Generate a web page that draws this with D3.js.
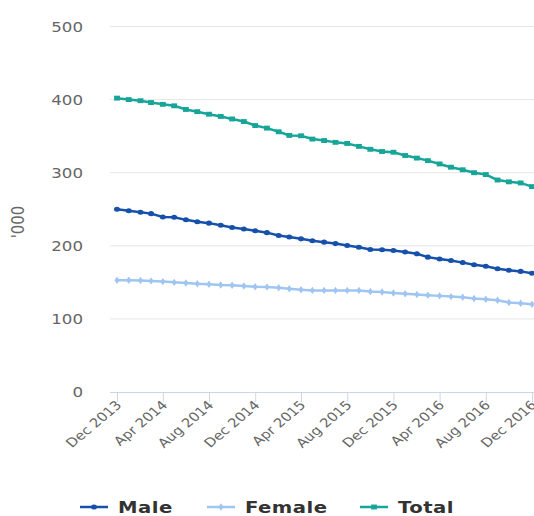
<!DOCTYPE html>
<html>
<head>
<meta charset="utf-8">
<script src="https://cdn.jsdelivr.net/npm/d3@7"></script>
<style>
  body { margin: 0; background: #fff; }
  text { font-family: "DejaVu Sans", sans-serif; }
</style>
</head>
<body>
<script>
// monthly categories, Dec 2013 .. Dec 2016
const months = [
  "2013-12",
  "2014-01","2014-02","2014-03","2014-04","2014-05","2014-06","2014-07","2014-08","2014-09","2014-10","2014-11","2014-12",
  "2015-01","2015-02","2015-03","2015-04","2015-05","2015-06","2015-07","2015-08","2015-09","2015-10","2015-11","2015-12",
  "2016-01","2016-02","2016-03","2016-04","2016-05","2016-06","2016-07","2016-08","2016-09","2016-10","2016-11","2016-12"
];
const tickMonths = ["2013-12","2014-04","2014-08","2014-12","2015-04","2015-08","2015-12","2016-04","2016-08","2016-12"];
const yTicks = [0, 100, 200, 300, 400, 500];

const male = [250, 248, 246, 244, 239.5, 239, 235.5, 233, 231, 228, 225, 223, 220.5,
  218, 214, 212, 209.5, 207, 205, 203, 200.5, 198, 195, 194.5, 193.5,
  191.5, 189, 184.5, 182, 180, 177, 174, 172, 168.5, 166.5, 165, 162.5];
const female = [153, 153, 152.5, 152, 151, 150, 149, 148, 147.5, 146.5, 146, 145, 144,
  143.5, 142.7, 141.3, 140, 139, 139, 139, 139, 139, 137.6, 136.7, 135.3,
  134.5, 133.5, 132.5, 131.5, 130.5, 129.5, 128, 127, 125.5, 122.5, 121.5, 120];
const total = [402, 400, 398.5, 396, 393.5, 391.5, 386.5, 383.5, 380, 377, 373.5, 370, 364.5,
  361, 356, 351, 350.5, 346, 344, 341.5, 340, 336, 332, 329, 328,
  323.5, 320, 316.5, 312, 307.5, 304, 300, 297.5, 290, 287.5, 286, 281];

const seriesNames = ["Male", "Female", "Total"];
const seriesColors = ["#1550aa", "#9fc5f2", "#17a599"];
const seriesData = [male, female, total];
const seriesMarkers = [d3.symbolCircle, d3.symbolDiamond, d3.symbolSquare];
const markerSizes = [20, 16, 24];

const W = 534, H = 516;
const SX = 1.19; // text in the reference is stretched horizontally
const parse = d3.timeParse("%Y-%m");

const svg = d3.select("body").append("svg")
  .attr("width", W)
  .attr("height", H);

const x = d3.scaleTime()
  .domain([parse(months[0]), parse(months[months.length - 1])])
  .range([117, 532]);

const y = d3.scaleLinear()
  .domain([0, 500])
  .range([392, 26.5]);

// gridlines
svg.append("g")
  .selectAll("line")
  .data(yTicks.filter(d => d > 0))
  .enter().append("line")
  .attr("x1", 110).attr("x2", W)
  .attr("y1", d => y(d)).attr("y2", d => y(d))
  .attr("stroke", "#e6e6e6")
  .attr("stroke-width", 1);

// y tick labels
svg.append("g")
  .selectAll("text")
  .data(yTicks)
  .enter().append("text")
  .attr("transform", d => `translate(83,${y(d) + 5}) scale(${SX},1)`)
  .attr("text-anchor", "end")
  .attr("font-size", 14)
  .attr("fill", "#666")
  .text(d => d);

// y axis title
svg.append("text")
  .attr("transform", `translate(24,222) rotate(-90) scale(1,${SX})`)
  .attr("text-anchor", "middle")
  .attr("font-size", 15)
  .attr("fill", "#666")
  .text("'000");

// x axis
const xAxis = svg.append("g")
  .attr("transform", `translate(0,${y(0)})`)
  .call(d3.axisBottom(x)
    .tickValues(tickMonths.map(parse))
    .tickSize(10)
    .tickFormat(d3.timeFormat("%b %Y")));

xAxis.select(".domain")
  .attr("d", `M110,0.5H${W}`)
  .attr("stroke", "#ccd6eb");
xAxis.selectAll(".tick line").attr("stroke", "#ccd6eb");
xAxis.selectAll(".tick text")
  .attr("font-family", "DejaVu Sans, sans-serif")
  .attr("font-size", 12.5)
  .attr("fill", "#666")
  .attr("text-anchor", "end")
  .attr("y", 0)
  .attr("dy", 0)
  .attr("transform", `translate(5,14) scale(${SX},1) rotate(-45)`);

// lines and markers
const line = d3.line()
  .x((d, i) => x(parse(months[i])))
  .y(d => y(d));

svg.append("clipPath").attr("id", "plot")
  .append("rect").attr("x", 100).attr("y", 0).attr("width", W - 100).attr("height", 400);

seriesData.forEach((vals, s) => {
  const g = svg.append("g").attr("clip-path", "url(#plot)");
  g.append("path")
    .datum(vals)
    .attr("d", line)
    .attr("fill", "none")
    .attr("stroke", seriesColors[s])
    .attr("stroke-width", 2.5);
  g.selectAll("path.m")
    .data(vals)
    .enter().append("path")
    .attr("class", "m")
    .attr("d", d3.symbol().type(seriesMarkers[s]).size(markerSizes[s]))
    .attr("transform", (d, i) => `translate(${x(parse(months[i]))},${y(d)}) scale(${SX},1)`)
    .attr("fill", seriesColors[s]);
});

// legend
const legendX = [80, 207, 360];
const legend = svg.append("g").attr("transform", "translate(0,507)");
seriesNames.forEach((name, s) => {
  const item = legend.append("g").attr("transform", `translate(${legendX[s]},0)`);
  item.append("line")
    .attr("x1", 0).attr("x2", 28)
    .attr("stroke", seriesColors[s])
    .attr("stroke-width", 2.5);
  item.append("path")
    .attr("d", d3.symbol().type(seriesMarkers[s]).size(markerSizes[s]))
    .attr("transform", `translate(14,0) scale(${SX},1)`)
    .attr("fill", seriesColors[s]);
  item.append("text")
    .attr("transform", `translate(38,6) scale(${SX},1)`)
    .attr("font-size", 16.5)
    .attr("font-weight", "bold")
    .attr("letter-spacing", 0.4)
    .attr("fill", "#333")
    .text(name);
});
</script>
</body>
</html>
